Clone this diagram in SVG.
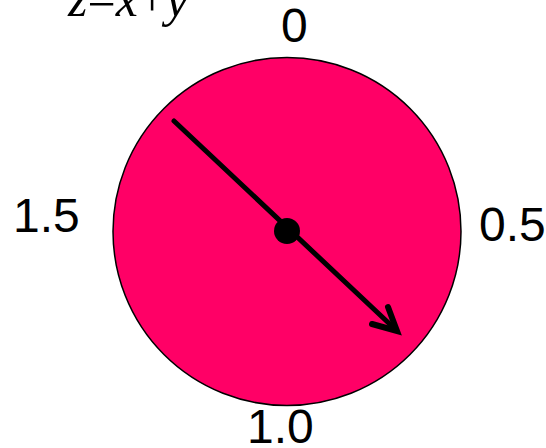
<svg xmlns="http://www.w3.org/2000/svg" width="546" height="448" viewBox="0 0 546 448">
<style>
.lbl{font-family:"Liberation Sans",Arial,sans-serif;font-size:48px;fill:#000}
.eq{font-family:"Liberation Serif","Times New Roman",serif;font-size:50px;fill:#000}
.it{font-style:italic}
</style>
<rect width="546" height="448" fill="#fff"/>
<g id="title"><text class="eq" x="68" y="16"><tspan class="it">z</tspan>=<tspan class="it">x</tspan>+<tspan class="it">y</tspan></text></g>
<g id="dial"><circle cx="287" cy="231.5" r="174" fill="#FF0066" stroke="#000" stroke-width="1.5"/></g>
<g id="connectors">
<line x1="174" y1="121" x2="395" y2="329" stroke="#000" stroke-width="5" stroke-linecap="round"/>
<polyline points="388,307 397,331 372,324" fill="none" stroke="#000" stroke-width="6" stroke-linecap="round" stroke-linejoin="miter"/>
</g>
<g id="hub"><circle cx="287" cy="231" r="13" fill="#000"/></g>
<g id="labels">
<text class="lbl" x="281" y="42">0</text>
<text class="lbl" x="479" y="241">0.5</text>
<text class="lbl" x="247" y="443">1.0</text>
<text class="lbl" x="13" y="232">1.5</text>
</g>
</svg>
